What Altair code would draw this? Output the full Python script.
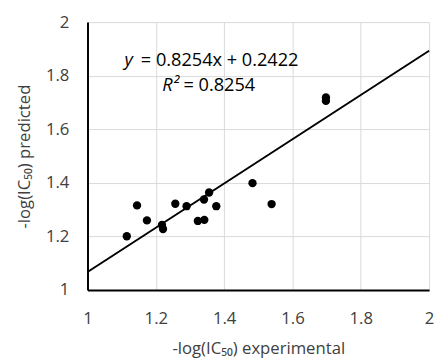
import altair as alt
import pandas as pd

# Data
experimental = [1.115, 1.145, 1.174, 1.218, 1.221, 1.257, 1.290, 1.323,
                1.342, 1.341, 1.356, 1.377, 1.483, 1.539, 1.698, 1.698]
predicted = [1.201, 1.316, 1.260, 1.243, 1.228, 1.322, 1.313, 1.258,
             1.262, 1.338, 1.364, 1.313, 1.399, 1.321, 1.719, 1.706]
slope = 0.8254
intercept = 0.2422
r2 = 0.8254
axis_ticks = [1, 1.2, 1.4, 1.6, 1.8, 2]

FONT = "Open Sans"
TXT = "#404040"

pts = pd.DataFrame({"x": experimental, "y": predicted})
fit = pd.DataFrame({"x": [1.0, 2.0]})
fit["y"] = slope * fit["x"] + intercept

xscale = alt.Scale(domain=[1, 2], nice=False, zero=False)
yscale = alt.Scale(domain=[1, 2], nice=False, zero=False)

xaxis = alt.Axis(values=axis_ticks, format=".1~f",
                 title="-log(IC₅₀) experimental", grid=True,
                 gridColor="#d9d9d9", gridWidth=1, ticks=False, tickSize=0,
                 domainColor="#000000", domainWidth=2, labelFont=FONT,
                 labelFontSize=17, labelColor=TXT, labelPadding=21,
                 titleFont=FONT, titleFontSize=17, titleFontWeight="normal",
                 titleColor=TXT, titlePadding=15, labelFlush=False)
yaxis = alt.Axis(values=axis_ticks, format=".1~f",
                 title="-log(IC₅₀) predicted", grid=True,
                 gridColor="#d9d9d9", gridWidth=1, ticks=False, tickSize=0,
                 domainColor="#000000", domainWidth=2, labelFont=FONT,
                 labelFontSize=17, labelColor=TXT, labelPadding=19,
                 titleFont=FONT, titleFontSize=17, titleFontWeight="normal",
                 titleColor=TXT, titlePadding=12, labelFlush=False)

points = alt.Chart(pts).mark_circle(size=72, color="#000000", opacity=1).encode(
    x=alt.X("x:Q", scale=xscale, axis=xaxis),
    y=alt.Y("y:Q", scale=yscale, axis=yaxis),
)

line = alt.Chart(fit).mark_line(color="#000000", strokeWidth=2).encode(
    x=alt.X("x:Q", scale=xscale),
    y=alt.Y("y:Q", scale=yscale),
)

eq_y = pd.DataFrame({"x": [1.108], "y": [1.857], "t": ["y"]})
eq_rest = pd.DataFrame({"x": [1.156], "y": [1.857],
                        "t": [f"= {slope:.4f}x + {intercept:.4f}"]})
r_lbl = pd.DataFrame({"x": [1.2185], "y": [1.766], "t": ["R²"]})
r_rest = pd.DataFrame({"x": [1.281], "y": [1.766], "t": [f"= {r2:.4f}"]})


def txt(df, italic):
    return alt.Chart(df).mark_text(
        align="left", baseline="middle", font=FONT, fontSize=18.5,
        fontStyle="italic" if italic else "normal", color="#000000",
    ).encode(x=alt.X("x:Q", scale=xscale), y=alt.Y("y:Q", scale=yscale),
             text="t:N")


chart = alt.layer(
    line, points, txt(eq_y, True), txt(eq_rest, False), txt(r_lbl, True),
    txt(r_rest, False)
).properties(
    width=348, height=273,
    padding={"left": 81, "top": 11, "right": 5, "bottom": 75},
    autosize=alt.AutoSizeParams(type="none"),
).configure_view(stroke=None)

chart.save("out.html", embed_options={"renderer": "svg", "actions": False})
